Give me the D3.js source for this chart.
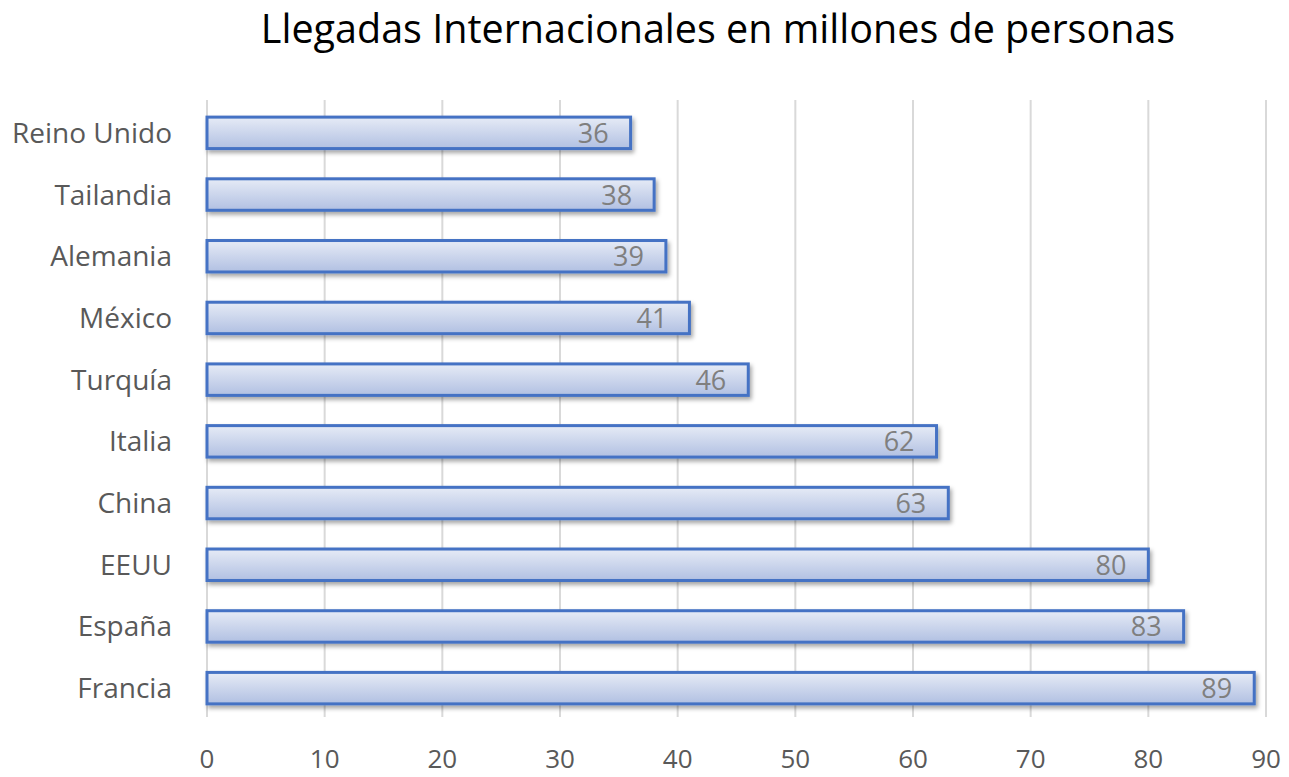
<!DOCTYPE html>
<html><head><meta charset="utf-8">
<script src="https://cdn.jsdelivr.net/npm/d3@7"></script>
<style>body{margin:0;background:#fff}svg{display:block}</style>
</head><body>
<script>
const categories = ["Reino Unido","Tailandia","Alemania","México","Turquía","Italia","China ","EEUU","España","Francia"];
const values = [36,38,39,41,46,62,63,80,83,89];
const ticks = [0,10,20,30,40,50,60,70,80,90];
const title = "Llegadas Internacionales en millones de personas";

const W=1289,H=777;
const svg=d3.select("body").append("svg").attr("width",W).attr("height",H);
const font="'Open Sans', 'Noto Sans', sans-serif";
const defs=svg.append("defs");
const g1=defs.append("linearGradient").attr("id","bg").attr("x1",0).attr("x2",0).attr("y1",0).attr("y2",1);
g1.append("stop").attr("offset","0%").attr("stop-color","#e6ebf6");
g1.append("stop").attr("offset","100%").attr("stop-color","#b1c0e2");
const f=defs.append("filter").attr("id","sh").attr("x","-5%").attr("y","-30%").attr("width","110%").attr("height","180%");
f.append("feDropShadow").attr("dx",2).attr("dy",3).attr("stdDeviation",2).attr("flood-color","#000").attr("flood-opacity",0.35);

const x=d3.scaleLinear().domain([0,90]).range([207,1266]);
const y=d3.scaleBand().domain(categories).range([102,719]).paddingInner(0.49).paddingOuter(0.245);

svg.append("text").attr("x",718).attr("y",43).attr("text-anchor","middle")
  .attr("font-family",font).attr("font-size",39.5).attr("fill","#000").text(title);

svg.append("g").selectAll("line").data(ticks).join("line")
  .attr("x1",d=>x(d)).attr("x2",d=>x(d)).attr("y1",100).attr("y2",717)
  .attr("stroke","#d9d9d9").attr("stroke-width",2);

svg.append("g").selectAll("rect").data(values).join("rect")
  .attr("x",x(0)).attr("y",(d,i)=>y(categories[i]))
  .attr("width",d=>x(d)-x(0)).attr("height",y.bandwidth())
  .attr("fill","url(#bg)").attr("stroke","#4472c4").attr("stroke-width",3)
  .attr("filter","url(#sh)");

svg.append("g").selectAll("text").data(values).join("text")
  .attr("x",d=>x(d)-22).attr("y",(d,i)=>y(categories[i])+y.bandwidth()/2+10)
  .attr("text-anchor","end").attr("font-family",font).attr("font-size",27)
  .attr("fill","#7f7f7f").text(d=>d);

svg.append("g").selectAll("text").data(categories).join("text")
  .attr("x",172).attr("y",d=>y(d)+y.bandwidth()/2+10)
  .attr("text-anchor","end").attr("font-family",font).attr("font-size",28)
  .attr("fill","#595959").text(d=>d);

svg.append("g").selectAll("text").data(ticks).join("text")
  .attr("x",d=>x(d)).attr("y",768).attr("text-anchor","middle")
  .attr("font-family",font).attr("font-size",26).attr("fill","#595959").text(d=>d);
</script>
</body></html>
